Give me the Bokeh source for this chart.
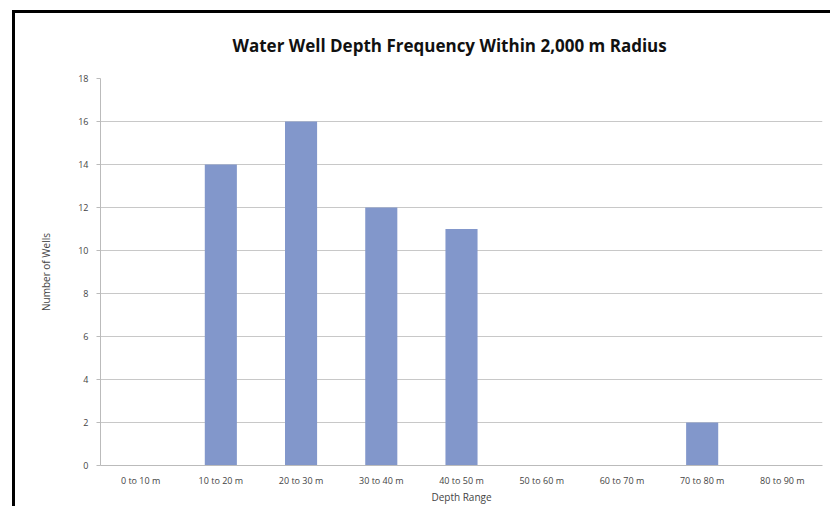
from bokeh.plotting import figure
from bokeh.layouts import column
from bokeh.models import FactorRange, Range1d, ColumnDataSource, FixedTicker
from bokeh.embed import file_html
from bokeh.resources import INLINE

categories = ["0 to 10 m", "10 to 20 m", "20 to 30 m", "30 to 40 m", "40 to 50 m",
              "50 to 60 m", "60 to 70 m", "70 to 80 m", "80 to 90 m"]
wells = [0, 14, 16, 12, 11, 0, 0, 2, 0]
y_ticks = [0, 2, 4, 6, 8, 10, 12, 14, 16, 18]

src = ColumnDataSource(dict(cat=categories, n=wells))

p = figure(x_range=FactorRange(*categories), y_range=Range1d(0, 18),
           width=815, height=493, output_backend="svg", toolbar_location=None,
           min_border_left=85, min_border_right=8, min_border_top=64, min_border_bottom=20)

p.vbar(x="cat", top="n", width=0.4, source=src, fill_color="#8297cb", line_color=None)

p.title.text = "Water Well Depth Frequency Within 2,000 m Radius"
p.title.align = "left"
p.title.vertical_align = "top"
p.title.text_font = "Open Sans"
p.title.text_font_style = "bold"
p.title.text_font_size = "17px"
p.title.text_color = "#111111"
p.title.offset = 132
p.title.standoff = 40

p.yaxis.ticker = FixedTicker(ticks=y_ticks)
p.yaxis.axis_label = "Number of Wells"
p.xaxis.axis_label = "Depth Range"
for ax in (p.xaxis[0], p.yaxis[0]):
    ax.axis_label_text_font = "Open Sans"
    ax.axis_label_text_font_style = "normal"
    ax.axis_label_text_font_size = "10px"
    ax.axis_label_text_color = "#444444"
    ax.major_label_text_font = "Open Sans"
    ax.major_label_text_font_size = "9px"
    ax.major_label_text_color = "#444444"
    ax.axis_line_color = "#bbbbbb"
    ax.major_tick_line_color = "#bbbbbb"
    ax.minor_tick_line_color = None
    ax.major_tick_out = 4
    ax.major_tick_in = 0
p.xaxis.major_tick_line_color = None
p.xaxis.major_tick_out = 0
p.xaxis.major_label_standoff = 8
p.xaxis.axis_label_standoff = 0
p.yaxis.axis_label_standoff = 22
p.yaxis.major_label_standoff = 8

p.xgrid.grid_line_color = None
p.ygrid.grid_line_color = "#c8c8c8"
p.outline_line_color = None
p.background_fill_color = "white"
p.border_fill_color = "white"

layout = column(p, width=818, height=496, margin=(10, 0, 0, 12),
                styles={"border-left": "3px solid black", "border-top": "3px solid black",
                        "overflow": "hidden"})

open("out.html", "w").write(file_html(layout, INLINE))
